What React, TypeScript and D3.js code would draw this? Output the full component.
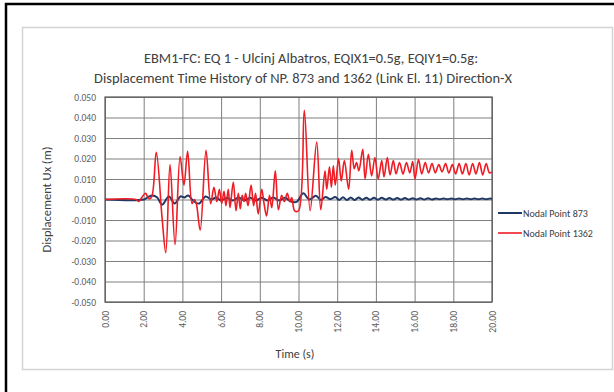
import * as d3 from 'd3';
import { useEffect, useRef } from 'react';

// time (s) / displacement (m)
const redTime = [
  0, 1.6, 1.75, 1.9, 2.1, 2.25, 2.4, 2.65, 2.95, 3.14, 3.36, 3.62, 3.88, 4.08, 4.27, 4.5, 4.62, 4.72, 4.92,
  5.22, 5.46, 5.63, 5.78, 5.91, 6.03, 6.15, 6.25, 6.37, 6.46, 6.63, 6.77, 6.89, 6.99, 7.09, 7.18, 7.27, 7.39,
  7.55, 7.68, 7.78, 7.92, 8.1, 8.22, 8.35, 8.5, 8.62, 8.8, 8.96, 9.13, 9.27, 9.42, 9.55, 9.65, 9.8, 10.0,
  10.3, 10.6, 10.94, 11.15, 11.37, 11.46, 11.6, 11.7, 11.8, 11.9, 12.07, 12.21, 12.37, 12.59, 12.75, 12.88,
  13.0, 13.12, 13.32, 13.44, 13.61, 13.78, 13.95, 14.12, 14.3, 14.42, 14.59, 14.73, 14.9, 15.04, 15.22, 15.4,
  15.58, 15.75, 15.9, 16.02, 16.2, 16.37, 16.55, 16.72, 16.9, 17.07, 17.25, 17.42, 17.6, 17.77, 17.95, 18.12,
  18.3, 18.47, 18.65, 18.82, 19.0, 19.17, 19.35, 19.52, 19.7, 19.87, 20.0,
];
const redUx = [
  0, 0, -0.001, 0.001, 0.003, 0.0005, 0.001, 0.023, -0.009, -0.026, 0.017, -0.022, 0.021, 0.007, 0.0235, -0.002, 0, -0.002, -0.015,
  0.024, -0.002, 0.006, -0.001, 0.005, -0.002, 0.004, -0.003, 0.005, -0.004, 0.0085, -0.0055, 0.003, -0.0045, 0.002, -0.001, 0.003, -0.003,
  0.007, -0.003, 0.003, -0.007, 0.005, -0.002, -0.008, 0.002, -0.004, 0.014, -0.005, 0.002, -0.001, 0.003, -0.001, 0.001, -0.0055, -0.0055,
  0.0435, -0.0055, 0.028, -0.005, 0.014, 0.005, 0.016, 0.006, 0.0165, 0.007, 0.02, 0.009, 0.019, 0.005, 0.024, 0.015,
  0.018, 0.014, 0.0245, 0.01, 0.022, 0.0115, 0.0205, 0.01, 0.019, 0.011, 0.0205, 0.012, 0.019, 0.0125, 0.018, 0.0125,
  0.018, 0.013, 0.0185, 0.01, 0.0195, 0.0125, 0.018, 0.013, 0.0175, 0.013, 0.017, 0.0135, 0.0175, 0.013, 0.017, 0.0125,
  0.0175, 0.0125, 0.0175, 0.012, 0.0175, 0.0125, 0.018, 0.012, 0.0175, 0.013, 0.0135,
];
const blueTime = [
  0, 2.0, 2.2, 2.45, 2.7, 2.95, 3.3, 3.6, 3.9, 4.1, 4.3, 4.55, 4.85, 5.2, 5.5, 5.75, 6.0, 6.3, 6.6, 6.9, 7.2, 7.5,
  7.8, 8.1, 8.4, 8.7, 9.0, 9.3, 9.6, 9.9, 10.25, 10.55, 10.9, 11.15, 11.4, 11.65, 11.9, 12.1, 12.3, 12.5, 12.7,
  12.9, 13.1, 13.3, 13.5, 13.7, 13.9, 14.1, 14.3, 14.5, 14.7, 14.9, 15.1, 15.3, 15.5, 15.7, 15.9, 16.1, 16.3,
  16.5, 16.7, 16.9, 17.1, 17.3, 17.5, 17.7, 17.9, 18.1, 18.3, 18.5, 18.7, 18.9, 19.1, 19.3, 19.5, 19.7, 19.9, 20.0,
];
const blueUx = [
  0, 0, 0.001, 0.002, 0.001, -0.0025, 0.0015, -0.002, 0.0015, 0.001, 0.002, -0.0005, -0.002, 0.0015, 0, 0.001, -0.0005, 0.0008, -0.0005, 0.001, -0.0005, 0.0008,
  -0.0005, 0.0008, -0.0005, 0.001, -0.0005, 0.0008, -0.001, -0.0012, 0.003, 0, 0.0018, -0.0002, 0.0012, 0.0002, 0.0012, -0.0002, 0.0011, -0.0002, 0.001,
  -0.0002, 0.001, -0.0001, 0.0009, -0.0001, 0.0008, -0.0001, 0.0008, 0, 0.0007, 0, 0.0007, 0, 0.0007, 0, 0.0006, 0, 0.0006,
  0, 0.0006, 0, 0.0005, 0.0001, 0.0005, 0.0001, 0.0005, 0.0001, 0.0005, 0.0001, 0.0005, 0.0001, 0.0005, 0.0001, 0.0005, 0.0001, 0.0005, 0.0003,
];
const xTicks = [0, 2, 4, 6, 8, 10, 12, 14, 16, 18, 20];
const yTicks = [-0.05, -0.04, -0.03, -0.02, -0.01, 0, 0.01, 0.02, 0.03, 0.04, 0.05];
const seriesNames = ['Nodal Point 873', 'Nodal Point 1362'];
const seriesColors = ['#1f3864', '#ee1c24'];

const FONT = "Calibri, Carlito, 'Open Sans', sans-serif";

export default function App() {
  const ref = useRef<SVGSVGElement | null>(null);

  useEffect(() => {
    const svg = d3.select(ref.current);
    svg.selectAll('*').remove();

    const width = 614;
    const height = 392;
    const margin = { top: 97, right: 122, bottom: 90, left: 105 };
    const innerW = width - margin.left - margin.right;
    const innerH = height - margin.top - margin.bottom;

    svg.append('rect').attr('width', width).attr('height', height).attr('fill', '#fff');
    // black frame (cropped at right/bottom)
    svg.append('path').attr('d', `M6,${height} V4 H${width}`).attr('fill', 'none').attr('stroke', '#000').attr('stroke-width', 2.5);
    // chart area border
    svg.append('rect').attr('x', 22.5).attr('y', 27.5).attr('width', 590).attr('height', 342)
      .attr('fill', 'none').attr('stroke', '#d4d4d4').attr('stroke-width', 1.5);

    const x = d3.scaleLinear().domain([0, 20]).range([0, innerW]);
    const y = d3.scaleLinear().domain([-0.05, 0.05]).range([innerH, 0]);

    const g = svg.append('g').attr('transform', `translate(${margin.left},${margin.top})`);

    // grid
    g.append('g')
      .call(d3.axisLeft(y).tickValues(yTicks).tickSize(-innerW).tickFormat(() => ''))
      .call((s) => s.select('.domain').remove())
      .selectAll('line').attr('stroke', '#7f7f7f').attr('stroke-width', 1);
    g.append('g')
      .call(d3.axisBottom(x).tickValues(xTicks).tickSize(innerH).tickFormat(() => ''))
      .call((s) => s.select('.domain').remove())
      .selectAll('line').attr('stroke', '#7f7f7f').attr('stroke-width', 1);
    g.append('rect').attr('width', innerW).attr('height', innerH).attr('fill', 'none').attr('stroke', '#595959').attr('stroke-width', 1.2);

    // y tick labels
    g.append('g')
      .call(d3.axisLeft(y).tickValues(yTicks).tickSize(0).tickPadding(9).tickFormat((d) => d3.format('.3f')(d as number).replace('−', '-')))
      .call((s) => s.select('.domain').remove())
      .selectAll('text').attr('font-family', FONT).attr('font-size', 9.5).attr('fill', '#595959');

    // x tick labels, rotated
    g.append('g')
      .attr('transform', `translate(0,${innerH})`)
      .call(d3.axisBottom(x).tickValues(xTicks).tickSize(0).tickFormat((d) => d3.format('.2f')(d as number)))
      .call((s) => s.select('.domain').remove())
      .selectAll('text')
      .attr('font-family', FONT).attr('font-size', 9.5).attr('fill', '#595959')
      .attr('transform', 'rotate(-90)')
      .attr('text-anchor', 'end')
      .attr('dy', '0.32em')
      .attr('x', -9)
      .attr('y', 0);

    const line = d3.line<[number, number]>().x((d) => x(d[0])).y((d) => y(d[1])).curve(d3.curveCatmullRom.alpha(0.5));
    const blue = blueTime.map((t, i) => [t, blueUx[i]] as [number, number]);
    const red = redTime.map((t, i) => [t, redUx[i]] as [number, number]);

    g.append('path').datum(blue).attr('d', line).attr('fill', 'none').attr('stroke', seriesColors[0]).attr('stroke-width', 2);
    g.append('path').datum(red).attr('d', line).attr('fill', 'none').attr('stroke', seriesColors[1]).attr('stroke-width', 1.6);

    // titles
    const title = svg.append('g').attr('font-family', FONT).attr('fill', '#404040').attr('text-anchor', 'middle');
    title.append('text').attr('x', 311).attr('y', 63).attr('font-size', 14)
      .attr('textLength', 334).attr('lengthAdjust', 'spacingAndGlyphs')
      .text('EBM1-FC: EQ 1 - Ulcinj Albatros, EQIX1=0.5g, EQIY1=0.5g:');
    title.append('text').attr('x', 303).attr('y', 83).attr('font-size', 14)
      .attr('textLength', 418).attr('lengthAdjust', 'spacingAndGlyphs')
      .text('Displacement Time History of NP. 873 and 1362 (Link El. 11) Direction-X');

    svg.append('text').attr('transform', `translate(51,${margin.top + innerH / 2}) rotate(-90)`)
      .attr('text-anchor', 'middle').attr('font-family', FONT).attr('font-size', 12.5).attr('fill', '#404040')
      .text('Displacement Ux (m)');
    svg.append('text').attr('x', 295).attr('y', 358)
      .attr('text-anchor', 'middle').attr('font-family', FONT).attr('font-size', 12).attr('fill', '#404040')
      .text('Time (s)');

    // legend
    const legend = svg.append('g').attr('transform', 'translate(498,213)');
    seriesNames.forEach((name, i) => {
      const row = legend.append('g').attr('transform', `translate(0,${i * 20})`);
      row.append('line').attr('x1', 0).attr('x2', 24).attr('stroke', seriesColors[i]).attr('stroke-width', i === 0 ? 2 : 1.6);
      row.append('text').attr('x', 25).attr('dy', '0.35em').attr('font-family', FONT).attr('font-size', 10)
        .attr('fill', '#404040').text(name);
    });
  }, []);

  return (
    <svg ref={ref} width={614} height={392} style={{ position: 'absolute', left: 0, top: 0 }} />
  );
}
